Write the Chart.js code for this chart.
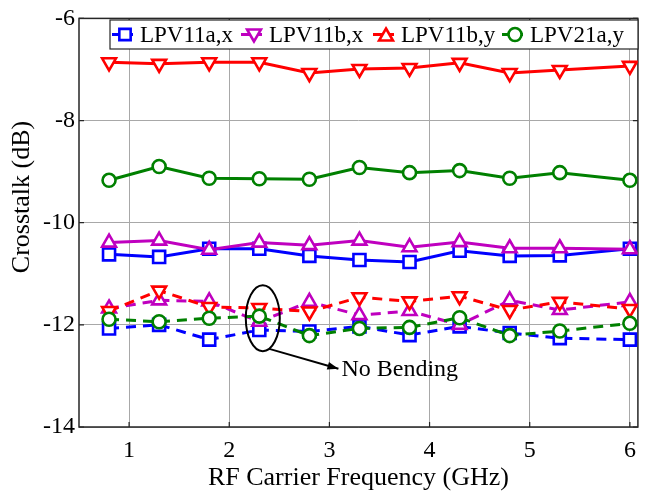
<!DOCTYPE html>
<html><head><meta charset="utf-8">
<script src="https://cdn.jsdelivr.net/npm/chart.js@4/dist/chart.umd.min.js"></script>
<style>html,body{margin:0;padding:0;background:#fff;}#wrap{width:649px;height:495px;}</style>
</head><body><div id="wrap"><canvas id="c" width="649" height="495"></canvas></div>
<script>
// ---- data ----
const freqGHz = [0.8, 1.3, 1.8, 2.3, 2.8, 3.3, 3.8, 4.3, 4.8, 5.3, 6.0];
const seriesLabels = ['LPV11a,x', 'LPV11b,x', 'LPV11b,y', 'LPV21a,y'];
// bent fibre (solid lines)
const lpv11ax = [-10.62, -10.67, -10.51, -10.51, -10.65, -10.73, -10.77, -10.55, -10.65, -10.64, -10.51];
const lpv11bx = [-10.39, -10.35, -10.53, -10.39, -10.44, -10.35, -10.48, -10.38, -10.50, -10.50, -10.52];
const lpv11by = [-6.86, -6.89, -6.86, -6.86, -7.07, -6.99, -6.97, -6.87, -7.07, -7.01, -6.93];
const lpv21ay = [-9.17, -8.90, -9.13, -9.14, -9.15, -8.92, -9.02, -8.98, -9.13, -9.02, -9.17];
// no bending (dashed lines)
const lpv11axNB = [-12.07, -12.00, -12.29, -12.10, -12.13, -12.03, -12.20, -12.03, -12.16, -12.26, -12.29];
const lpv11bxNB = [-11.68, -11.52, -11.54, -11.94, -11.55, -11.81, -11.73, -12.00, -11.52, -11.71, -11.55];
const lpv11byNB = [-11.73, -11.33, -11.65, -11.67, -11.74, -11.46, -11.54, -11.44, -11.71, -11.55, -11.69];
const lpv21ayNB = [-11.89, -11.94, -11.87, -11.83, -12.21, -12.07, -12.05, -11.86, -12.21, -12.12, -11.97];
const xTickValues = [1, 2, 3, 4, 5, 6];
const yTickValues = [-14, -12, -10, -8, -6];
const annotationText = 'No Bending';

// ---- styles ----
const FONT = "'Liberation Serif', 'Times New Roman', serif";
const BLUE = '#0000ff', MAG = '#bf00bf', RED = '#ff0000', GREEN = '#008000';
const toPts = arr => arr.map((v, i) => ({x: freqGHz[i], y: v}));

function ds(label, data, color, style, rot, radius, dashed) {
  return {
    label, data: toPts(data),
    borderColor: color, backgroundColor: color,
    borderWidth: 3, borderDash: dashed ? [10, 7] : [],
    pointStyle: style, pointRotation: rot, pointRadius: radius,
    pointBorderColor: color, pointBackgroundColor: '#ffffff', pointBorderWidth: 2.6,
    tension: 0, fill: false
  };
}

const datasets = [
  ds(seriesLabels[3] + ' NB', lpv21ayNB, GREEN, 'circle', 0, 6.5, true),
  ds(seriesLabels[2] + ' NB', lpv11byNB, RED, 'triangle', 180, 8, true),
  ds(seriesLabels[1] + ' NB', lpv11bxNB, MAG, 'triangle', 0, 8, true),
  ds(seriesLabels[0] + ' NB', lpv11axNB, BLUE, 'rect', 0, 8.5, true),
  ds(seriesLabels[3], lpv21ay, GREEN, 'circle', 0, 6.5, false),
  ds(seriesLabels[2], lpv11by, RED, 'triangle', 180, 8, false),
  ds(seriesLabels[1], lpv11bx, MAG, 'triangle', 0, 8, false),
  ds(seriesLabels[0], lpv11ax, BLUE, 'rect', 0, 8.5, false)
];

// legend appearance (as in the reference figure)
const legendEntries = [
  {label: seriesLabels[0], color: BLUE, style: 'rect', rot: 0, r: 8},
  {label: seriesLabels[1], color: MAG, style: 'triangle', rot: 180, r: 8},
  {label: seriesLabels[2], color: RED, style: 'triangle', rot: 0, r: 8},
  {label: seriesLabels[3], color: GREEN, style: 'circle', rot: 0, r: 6.5}
];
const legendBox = {left: 110, top: 20, right: 638, bottom: 49};
const legendItemX = [112, 241, 373, 502];

function marker(ctx, style, rot, r, x, y) {
  if (Chart.helpers && Chart.helpers.drawPoint) {
    Chart.helpers.drawPoint(ctx, {pointStyle: style, rotation: rot, radius: r, borderWidth: 2.6}, x, y);
    return;
  }
  ctx.beginPath();
  if (style === 'circle') ctx.arc(x, y, r, 0, Math.PI * 2);
  else if (style === 'rect') { const s = r * Math.SQRT1_2; ctx.rect(x - s, y - s, 2 * s, 2 * s); }
  else {
    let a = rot * Math.PI / 180;
    for (let k = 0; k < 3; k++) {
      const px = x + Math.sin(a) * r, py = y - Math.cos(a) * r;
      k ? ctx.lineTo(px, py) : ctx.moveTo(px, py);
      a += 2 * Math.PI / 3;
    }
    ctx.closePath();
  }
  ctx.fill(); ctx.stroke();
}

const framePlugin = {
  id: 'frame',
  beforeDatasetsDraw(chart) {
    const {ctx, chartArea: a, scales: {x, y}} = chart;
    ctx.save();
    ctx.strokeStyle = '#262626';
    ctx.lineWidth = 1.2;
    ctx.beginPath();
    xTickValues.forEach(v => {
      const px = x.getPixelForValue(v);
      ctx.moveTo(px, a.bottom); ctx.lineTo(px, a.bottom - 5);
      ctx.moveTo(px, a.top); ctx.lineTo(px, a.top + 5);
    });
    yTickValues.forEach(v => {
      const py = y.getPixelForValue(v);
      ctx.moveTo(a.left, py); ctx.lineTo(a.left + 5, py);
      ctx.moveTo(a.right, py); ctx.lineTo(a.right - 5, py);
    });
    ctx.stroke();
    ctx.lineWidth = 1.5;
    ctx.strokeRect(a.left, a.top, a.right - a.left, a.bottom - a.top);
    ctx.restore();
  },
  afterDatasetsDraw(chart) {
    const {ctx, chartArea: a, scales: {x, y}} = chart;
    ctx.save();
    // annotation: ellipse + arrow + text
    ctx.strokeStyle = '#000'; ctx.fillStyle = '#000'; ctx.lineWidth = 2;
    const cx = x.getPixelForValue(2.335), cy = y.getPixelForValue(-11.87);
    ctx.beginPath(); ctx.ellipse(cx, cy, 17, 33, 0, 0, Math.PI * 2); ctx.stroke();
    const x1 = x.getPixelForValue(2.40), y1 = y.getPixelForValue(-12.47);
    const x2 = x.getPixelForValue(3.09), y2 = y.getPixelForValue(-12.86);
    ctx.beginPath(); ctx.moveTo(x1, y1); ctx.lineTo(x2, y2); ctx.stroke();
    const ang = Math.atan2(y2 - y1, x2 - x1);
    ctx.beginPath();
    ctx.moveTo(x2, y2);
    ctx.lineTo(x2 - 11 * Math.cos(ang) + 4 * Math.sin(ang), y2 - 11 * Math.sin(ang) - 4 * Math.cos(ang));
    ctx.lineTo(x2 - 11 * Math.cos(ang) - 4 * Math.sin(ang), y2 - 11 * Math.sin(ang) + 4 * Math.cos(ang));
    ctx.closePath(); ctx.fill();
    ctx.font = '24px ' + FONT; ctx.textBaseline = 'alphabetic'; ctx.textAlign = 'left';
    ctx.fillText(annotationText, x.getPixelForValue(3.12), y.getPixelForValue(-13.0));

    // legend
    const L = legendBox;
    ctx.fillStyle = '#fff';
    ctx.fillRect(L.left, L.top, L.right - L.left, L.bottom - L.top);
    ctx.strokeStyle = '#262626'; ctx.lineWidth = 1.2;
    ctx.strokeRect(L.left, L.top, L.right - L.left, L.bottom - L.top);
    const ym = (L.top + L.bottom) / 2;
    legendEntries.forEach((e, i) => {
      const x0 = legendItemX[i];
      ctx.strokeStyle = e.color; ctx.lineWidth = 3; ctx.setLineDash([]);
      ctx.beginPath(); ctx.moveTo(x0, ym); ctx.lineTo(x0 + 21, ym); ctx.stroke();
      ctx.fillStyle = '#fff'; ctx.lineWidth = 2.6;
      marker(ctx, e.style, e.rot, e.r, x0 + 13, ym + (e.style === 'triangle' ? (e.rot ? -1 : 2) : 0));
      ctx.fillStyle = '#000'; ctx.font = '23px ' + FONT; ctx.textBaseline = 'middle'; ctx.textAlign = 'left';
      ctx.fillText(e.label, x0 + 28, ym + 1);
    });

    // y-axis title
    ctx.translate(22, 197);
    ctx.rotate(-Math.PI / 2);
    ctx.fillStyle = '#000'; ctx.font = '26px ' + FONT; ctx.textAlign = 'center'; ctx.textBaseline = 'middle';
    ctx.fillText('Crosstalk (dB)', 0, 0);
    ctx.restore();
  }
};

new Chart(document.getElementById('c'), {
  type: 'line',
  data: {datasets},
  options: {
    responsive: false, animation: false, devicePixelRatio: 1,
    layout: {padding: {top: 13, right: 3, left: 0, bottom: 0}},
    plugins: {legend: {display: false}, tooltip: {enabled: false}},
    scales: {
      x: {
        type: 'linear', min: 0.5, max: 6.08,
        afterBuildTicks: s => { s.ticks = xTickValues.map(v => ({value: v})); },
        afterFit: s => { s.height = 68; },
        ticks: {color: '#000', font: {family: FONT, size: 24}, padding: 9, callback: v => String(v), maxRotation: 0},
        grid: {color: '#a8a8a8', lineWidth: 1, drawTicks: false},
        border: {display: false},
        title: {display: true, text: 'RF Carrier Frequency (GHz)', color: '#000', font: {family: FONT, size: 26}, padding: {top: 0, bottom: 1}}
      },
      y: {
        type: 'linear', min: -14, max: -6,
        afterBuildTicks: s => { s.ticks = yTickValues.map(v => ({value: v})); },
        afterFit: s => { s.width = 79; },
        ticks: {color: '#000', font: {family: FONT, size: 24}, padding: 4, callback: v => String(v)},
        grid: {color: '#a8a8a8', lineWidth: 1, drawTicks: false},
        border: {display: false}
      }
    }
  },
  plugins: [framePlugin]
});
</script></body></html>
